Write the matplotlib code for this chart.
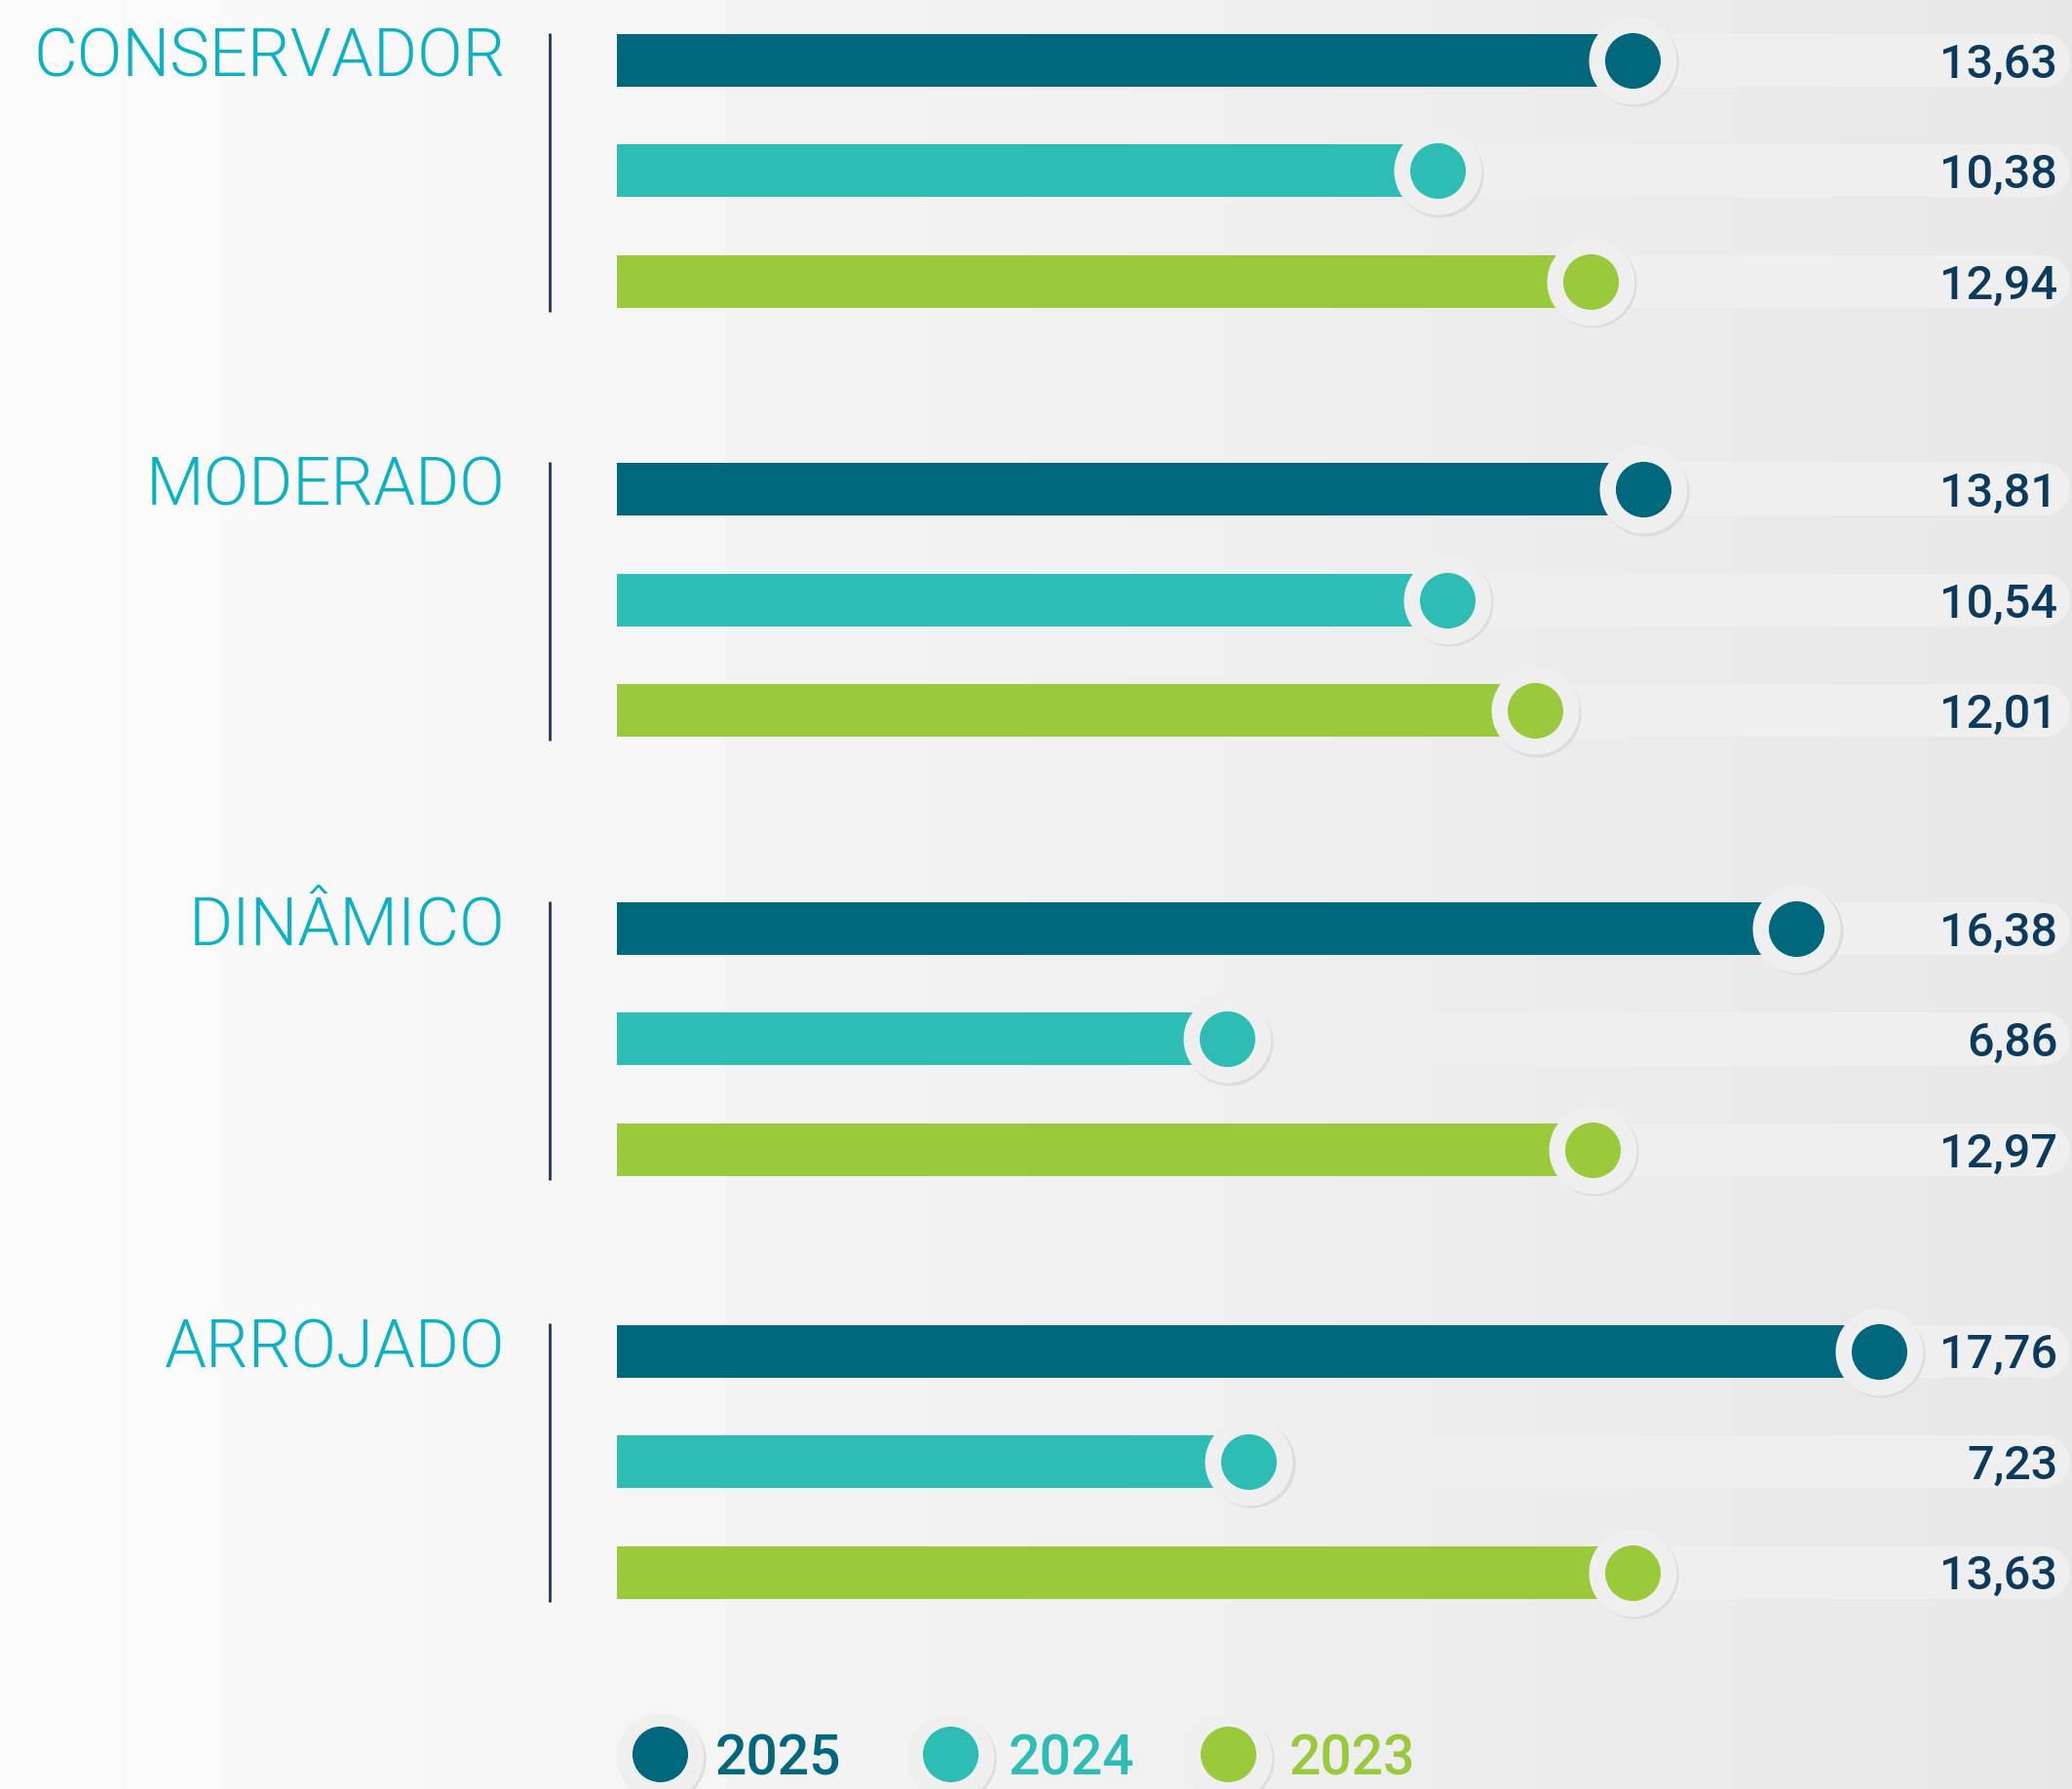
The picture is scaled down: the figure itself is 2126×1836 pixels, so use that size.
import numpy as np
import matplotlib.pyplot as plt

# dados
categorias = ['CONSERVADOR', 'MODERADO', 'DINÂMICO', 'ARROJADO']
anos = ['2025', '2024', '2023']
v2025 = [13.63, 13.81, 16.38, 17.76]
v2024 = [10.38, 10.54, 6.86, 7.23]
v2023 = [12.94, 12.01, 12.97, 13.63]

cores = ['#00677c', '#2ebdb5', '#9aca3c']
cor_rotulo = '#0ab2c6'
cor_valor = '#0b3a5c'

plt.rcParams['font.family'] = ['Roboto', 'DejaVu Sans']

fig = plt.figure(figsize=(21.26, 18.36), dpi=100)
ax = fig.add_axes([0, 0, 1, 1])

# escala: ~61.4 px por unidade, zero em ~837 px
xmin, xmax = -13.63, 20.98
ymin, ymax = -0.546, 15.63
base = -3.33          # inicio das barras
inicio_grupo = [0, 3.88, 7.85, 11.67]
ax.set_xlim(xmin, xmax)
ax.set_ylim(ymax, ymin)
ax.axis('off')

# fundo em degrade
grad = np.linspace(0.985, 0.905, 256).reshape(1, -1)
ax.imshow(grad, cmap='gray', vmin=0, vmax=1, extent=[xmin, xmax, ymax, ymin],
          aspect='auto', zorder=0, interpolation='bicubic')

series = [v2025, v2024, v2023]
alt_barra = 0.476
lw_trilho = 54 * 0.72

for g, cat in enumerate(categorias):
    y0 = inicio_grupo[g]
    ax.plot([-4.45, -4.45], [y0 - 0.25, y0 + 2.27], color='#1b3a5c', lw=2, zorder=2,
            solid_capstyle='butt')
    ax.text(-5.19, y0 - 0.02, cat, ha='right', va='center', fontsize=49.5,
            fontweight=300, color=cor_rotulo, zorder=5)
    for i, vals in enumerate(series):
        y = y0 + i
        v = vals[g]
        # trilho cinza
        ax.plot([base + 0.6, 20.5], [y, y], color='#efefef', lw=lw_trilho,
                solid_capstyle='round', zorder=1)
        ax.barh(y, v - base, left=base, height=alt_barra, color=cores[i], zorder=2)
        ax.scatter(v + 0.035, y + 0.02, s=4200, color='#dcdcdc', zorder=3, lw=0)
        ax.scatter(v, y, s=4200, color='#efefef', zorder=3, lw=0)
        ax.scatter(v, y, s=1690, color=cores[i], zorder=4, lw=0)
        ax.text(20.74, y + 0.04, f'{v:.2f}'.replace('.', ','), ha='right', va='center',
                fontsize=35, fontweight='medium', color=cor_valor, zorder=5)

# legenda
yl = 15.34
pos_leg = [-2.61, 2.24, 6.88]
for k, ano in enumerate(anos):
    xm = pos_leg[k]
    ax.scatter(xm + 0.035, yl + 0.02, s=4200, color='#dcdcdc', zorder=3, lw=0)
    ax.scatter(xm, yl, s=4200, color='#efefef', zorder=3, lw=0)
    ax.scatter(xm, yl - 0.03, s=1690, color=cores[k], zorder=4, lw=0)
    ax.text(xm + 0.93 + 0.05 * k, yl + 0.03, ano, ha='left', va='center', fontsize=41,
            fontweight='medium', color=cores[k], zorder=5)

fig.savefig('out.png', dpi=100)
